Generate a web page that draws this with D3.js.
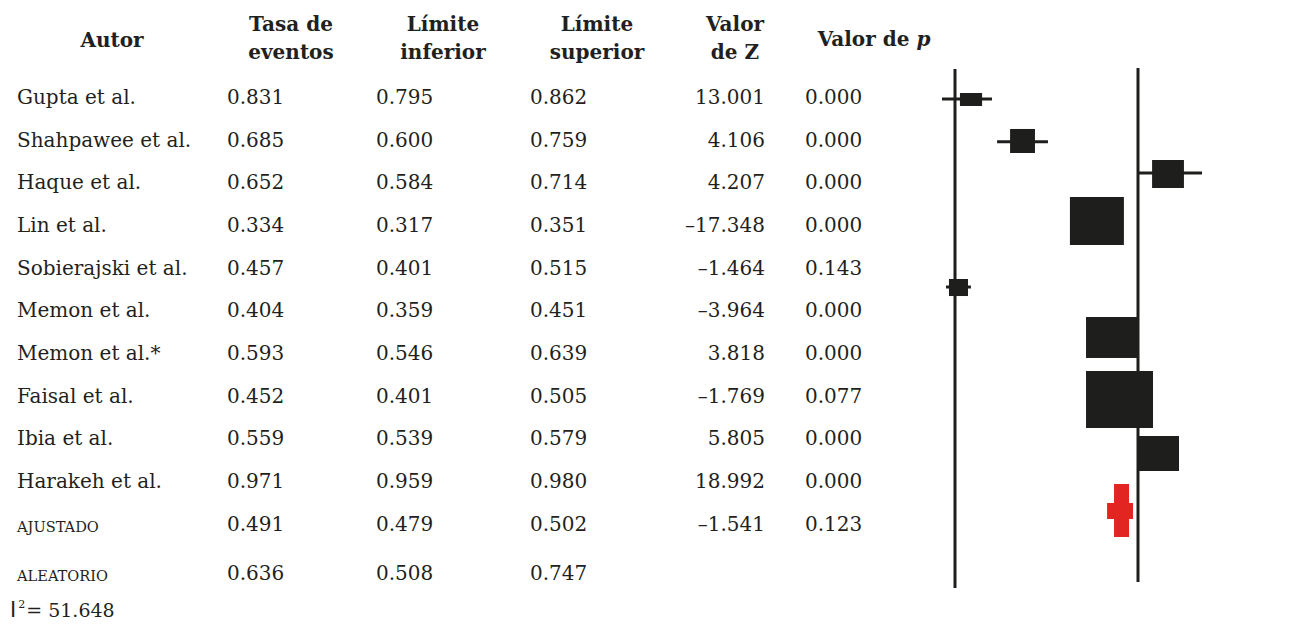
<!DOCTYPE html>
<html>
<head>
<meta charset="utf-8">
<script src="https://cdn.jsdelivr.net/npm/d3@7"></script>
<style>
  body { margin: 0; background: #fff; }
  svg { display: block; }
  text { font-family: "DejaVu Serif", serif; fill: #231f20; }
</style>
</head>
<body>
<svg id="chart" width="1293" height="624"></svg>
<script>
// table rows
const authors = ["Gupta et al.", "Shahpawee et al.", "Haque et al.", "Lin et al.", "Sobierajski et al.",
  "Memon et al.", "Memon et al.*", "Faisal et al.", "Ibia et al.", "Harakeh et al.", "AJUSTADO", "ALEATORIO"];
const eventRate = [0.831, 0.685, 0.652, 0.334, 0.457, 0.404, 0.593, 0.452, 0.559, 0.971, 0.491, 0.636];
const lowerLimit = [0.795, 0.600, 0.584, 0.317, 0.401, 0.359, 0.546, 0.401, 0.539, 0.959, 0.479, 0.508];
const upperLimit = [0.862, 0.759, 0.714, 0.351, 0.515, 0.451, 0.639, 0.505, 0.579, 0.980, 0.502, 0.747];
const zValue = [13.001, 4.106, 4.207, -17.348, -1.464, -3.964, 3.818, -1.769, 5.805, 18.992, -1.541, null];
const pValue = [0.000, 0.000, 0.000, 0.000, 0.143, 0.000, 0.000, 0.077, 0.000, 0.000, 0.123, null];
const iSquared = 51.648;

// plot marks as drawn, in plot units (x: 0 = left line, 1 = right line; y: row index)
const boxLeft   = [0.027, 0.301, 1.077, 0.628, -0.033, 0.716, 0.716, 1.000];
const boxRight  = [0.148, 0.437, 1.251, 0.923,  0.071, 1.000, 1.082, 1.224];
const boxTop    = [-0.07, 0.773, 1.500, 2.367,  4.289, 5.180, 6.445, 7.969];
const boxBottom = [0.234, 1.336, 2.156, 3.492,  4.688, 6.140, 7.781, 8.789];
const ciLow     = [-0.071, 0.230, 1.005, null, -0.049, null, null, null];
const ciHigh    = [0.202, 0.508, 1.350, null, 0.087, null, null, null];
const ciRow     = [0.070, 1.071, 1.805, null, 4.477, null, null, null];
// pooled (ajustado) cross
const pooledVert = { x0: 0.869, x1: 0.951, y0: 9.094, y1: 10.336 };
const pooledHorz = { x0: 0.831, x1: 0.973, y0: 9.539, y1: 9.914 };
// reference lines
const refLines = [{ x: 0, y0: -0.633, y1: 11.53 }, { x: 1, y0: -0.656, y1: 11.39 }];

const svg = d3.select("#chart");
const rowY = d3.scaleLinear().domain([0, 9]).range([96, 480]);
const plotX = d3.scaleLinear().domain([0, 1]).range([955, 1138]);

const fmt = d3.formatLocale({ decimal: ".", thousands: ",", grouping: [3], currency: ["", ""], minus: "\u2013" }).format(".3f");
const ink = "#1e1e1c";
const fs = 20;

// headers
const headers = [
  { x: 112, lines: ["Autor"] },
  { x: 291, lines: ["Tasa de", "eventos"] },
  { x: 443, lines: ["Límite", "inferior"] },
  { x: 597, lines: ["Límite", "superior"] },
  { x: 735, lines: ["Valor", "de Z"] },
];
headers.forEach(h => {
  const t = svg.append("text").attr("text-anchor", "middle").style("font-weight", "bold").style("font-size", fs + "px");
  if (h.lines.length === 1) {
    t.attr("x", h.x).attr("y", 47).text(h.lines[0]);
  } else {
    h.lines.forEach((l, i) => t.append("tspan").attr("x", h.x).attr("y", 31 + i * 28).text(l));
  }
});
const pHead = svg.append("text").attr("x", 874).attr("y", 46).attr("text-anchor", "middle")
  .style("font-weight", "bold").style("font-size", fs + "px");
pHead.append("tspan").text("Valor de ");
pHead.append("tspan").style("font-style", "italic").text("p");

// rows
const rowBase = i => (i < 11 ? rowY(i) : rowY(11.15)) + 8;
authors.forEach((a, i) => {
  const y = rowBase(i);
  const small = i >= 10;
  svg.append("text").attr("x", 17).attr("y", small ? y + 1 : y)
    .style("font-size", (small ? 14.6 : fs) + "px").text(a);
  svg.append("text").attr("x", 227).attr("y", y).style("font-size", fs + "px").text(fmt(eventRate[i]));
  svg.append("text").attr("x", 376).attr("y", y).style("font-size", fs + "px").text(fmt(lowerLimit[i]));
  svg.append("text").attr("x", 530).attr("y", y).style("font-size", fs + "px").text(fmt(upperLimit[i]));
  if (zValue[i] !== null)
    svg.append("text").attr("x", 765).attr("y", y).attr("text-anchor", "end").style("font-size", fs + "px").text(fmt(zValue[i]));
  if (pValue[i] !== null)
    svg.append("text").attr("x", 805).attr("y", y).style("font-size", fs + "px").text(fmt(pValue[i]));
});

// I^2
const iq = svg.append("text").attr("x", 10).attr("y", 617).style("font-size", "19px");
iq.append("tspan").style("font-family", "DejaVu Sans").style("font-size", "21px").text("I");
iq.append("tspan").attr("dy", -9).attr("dx", 2).style("font-size", "11px").text("2");
iq.append("tspan").attr("dy", 9).attr("dx", 1).text("= " + d3.format(".3f")(iSquared));

// forest plot
const g = svg.append("g");
g.selectAll(".ref").data(refLines).enter().append("line")
  .attr("x1", d => plotX(d.x)).attr("x2", d => plotX(d.x))
  .attr("y1", d => rowY(d.y0)).attr("y2", d => rowY(d.y1))
  .attr("stroke", ink).attr("stroke-width", 3);

const ciData = d3.range(ciLow.length).filter(i => ciLow[i] !== null);
g.selectAll(".ci").data(ciData).enter().append("line")
  .attr("x1", i => plotX(ciLow[i])).attr("x2", i => plotX(ciHigh[i]))
  .attr("y1", i => rowY(ciRow[i])).attr("y2", i => rowY(ciRow[i]))
  .attr("stroke", ink).attr("stroke-width", 3);

g.selectAll(".box").data(d3.range(boxLeft.length)).enter().append("rect")
  .attr("x", i => plotX(boxLeft[i]))
  .attr("width", i => plotX(boxRight[i]) - plotX(boxLeft[i]))
  .attr("y", i => rowY(boxTop[i]))
  .attr("height", i => rowY(boxBottom[i]) - rowY(boxTop[i]))
  .attr("fill", ink);

g.selectAll(".pooled").data([pooledVert, pooledHorz]).enter().append("rect")
  .attr("x", d => plotX(d.x0)).attr("width", d => plotX(d.x1) - plotX(d.x0))
  .attr("y", d => rowY(d.y0)).attr("height", d => rowY(d.y1) - rowY(d.y0))
  .attr("fill", "#e32521");
</script>
</body>
</html>
